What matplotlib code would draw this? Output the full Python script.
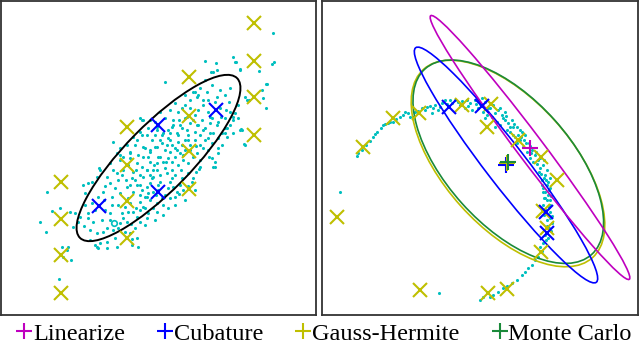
import matplotlib
matplotlib.use("Agg")
import matplotlib.pyplot as plt
import numpy as np
from matplotlib.patches import Ellipse
from matplotlib.lines import Line2D

plt.rcParams['font.family'] = ['Liberation Serif', 'DejaVu Serif']

# ------------------------------------------------------------------------------
# Data (in panel pixel units, y pointing down)

# left panel: linear case
left_cloud = [
    (273,33),(274,62),(272,64),(233,57),(235,62),(240,70),(259,71),(216,63),(205,61),(217,70),(213,72),(165,82),
    (266,84),(262,90),(263,98),(247,100),(266,108),(240,130),(244,144),(233,120),(227,137),(218,148),(215,167),
    (199,169),(209,157),(235,113),(47,192),(52,211),(40,222),(46,232),(68,247),(71,260),(59,279),(63,257),(75,213),
    (73,227),(88,183),(99,168),(97,247),(107,248),(138,247),(132,239),(90,230),(95,245),(113,142),(120,155),(140,118),
    (143,120),(211,72),(236,62),(240,69),(267,84),(249,100),(245,97),(238,105),(241,129),(229,102),(226,110),(221,117),
    (208,112),(210,117),(207,92),(203,100),(197,97),(195,92),(200,88),(217,97),(218,122),(227,128),(225,133),(233,117),
    (185,105),(182,108),(179,120),(193,120),(197,125),(202,120),(203,130),(213,133),(172,127),(168,130),(163,133),
    (177,133),(187,130),(157,127),(150,120),(173,125),(182,128),(190,123),(198,125),(210,133),(217,125),(225,128),
    (205,140),(212,143),(218,138),(203,148),(197,153),(193,157),(200,160),(212,158),(218,153),(213,167),(188,163),
    (183,160),(180,153),(175,148),(170,152),(167,145),(160,140),(155,147),(150,152),(145,148),(143,157),(150,162),
    (157,163),(163,162),(172,162),(153,170),(147,170),(143,177),(152,178),(160,175),(167,173),(170,182),(160,182),
    (147,187),(142,190),(145,197),(150,200),(157,203),(163,205),(153,208),(143,207),(148,213),(173,187),(180,185),
    (177,192),(182,178),(188,173),(193,178),(179,194),(183,190),(233,133),(242,130),(245,145),(215,162),(200,167),
    (192,182),(195,190),(60,208),(70,212),(80,217),(88,218),(92,203),(85,193),(83,185),(92,182),(97,177),(100,170),
    (107,177),(113,170),(110,183),(118,180),(103,192),(105,210),(110,213),(102,220),(93,222),(97,233),(107,228),
    (113,230),(120,223),(127,222),(122,213),(133,212),(137,217),(140,210),(145,208),(130,203),(125,207),(107,242),
    (100,243),(98,248),(117,247),(130,233),(137,238),(132,245),(62,247),(67,250),(120,193),(127,187),(115,188),
    (112,197),(133,192),(140,195),(147,197),(153,192),(117,173),(123,170),(133,172),(140,175),(147,170),(110,163),
    (120,160),(130,158),(137,163),(148,157),(117,153),(130,152),(157,170),(153,177),(142,120),(120,148),(127,145),
    (133,137),(140,132),(137,140),(147,135),(152,140),(155,135),(157,130),(143,147),(150,150),(157,147),(130,153),
    (123,157),(138,155),(158,157),(193,92),(198,95),(208,100),(203,105),(198,110),(190,108),(187,117),(173,120),
    (180,125),(210,123),(170,110),(175,103),(165,150),(168,158),(175,157),(178,142),(185,140),(190,145),(185,150),
    (178,165),(172,170),(165,168),(158,190),(165,195),(170,198),(185,200),(175,205),(163,215),(155,220),(145,225),
    (135,228),(125,232),(140,185),(135,180),(128,198),(118,205),(162,135),(168,138),(195,140),(200,135),(208,150),
    (222,145),(225,118),(230,112),(188,135),(195,132),(182,145),(172,178),(156,195),(150,183),(137,185),(132,178),
    (225,95),(230,88),(220,90),(212,85),(205,80),(185,95),(178,112),(165,118),(160,112),(155,122),(148,128),(142,135),
    (135,145),(128,165),(122,175),(112,205),(95,210),(85,205),(103,232),(115,238),(88,213),(78,222),
    (162,143),(170,140),(177,150),(183,155),(190,150),(196,146),(188,140),(166,162),(160,157),(154,165),(175,175),
    (181,170),(168,188),(162,198),(148,193),(140,202),(136,208),(128,212),(123,218),(118,228),(110,220),(104,200),
    (98,197),(126,180),(130,185),(142,167),(136,170),(150,175),(158,185),(205,128),(212,118),(220,108),(215,102),
    (190,100),(195,115),(185,118),(178,135),(170,133),(172,145),(200,145),(208,138),(222,133),(230,125),(238,118),
    (196,172),(188,186),(175,197),(168,208),(157,212),(147,218),(140,222),(131,224),(90,240),(84,226),(105,186),
]
left_mean = (114, 223)
left_gh = [(61,182),(61,219),(61,255),(61,293),(127,127),(127,165),(127,201),(127,238),
           (189,77),(189,116),(189,151),(189,189),(254,23),(254,61),(254,97),(254,135)]
left_cub = [(158,125),(216,110),(158,192),(99,206)]
# black ellipse: center, semi axes, angle (deg)
left_ell = ((158.5, 158), 112, 33, -45.5)

# right panel: nonlinear case
right_cloud = [
    (340,192),(357,156),(358,153),(362,150),(366,145),(370,141),(373,137),(375,134),(377,132),(381,128),(383,125),
    (385,124),(388,123),(390,122),(393,122),(396,119),(400,117),(403,115),(405,112),(408,113),(410,117),(413,117),
    (415,112),(418,111),(422,108),(425,110),(427,107),(430,106),(433,108),(432,113),(435,105),(438,110),(440,107),
    (442,103),(445,100),(447,104),(450,100),(452,103),(455,100),(458,102),(462,101),(467,100),(470,103),(472,110),
    (475,100),(465,108),(478,108),(480,104),(482,98),(483,112),(485,102),(487,115),(488,108),(490,108),(492,117),
    (485,118),(495,113),(497,122),(498,110),(500,125),(495,127),(502,115),(503,118),(505,112),(507,130),(508,123),
    (510,132),(512,120),(513,135),(515,137),(517,127),(520,130),(522,132),(525,135),(517,143),(520,140),(523,147),
    (527,152),(532,150),(529,143),(535,155),(530,158),(533,162),(538,160),(543,165),(540,168),(547,170),(545,175),
    (550,178),(542,180),(547,185),(550,188),(543,188),(543,192),(542,185),(545,192),(548,195),(547,200),(550,205),
    (543,205),(546,210),(550,212),(552,216),(550,218),(547,220),(552,223),(549,228),(551,231),(545,235),(548,238),
    (543,243),(540,247),(542,251),(538,257),(535,260),(532,265),(528,268),(525,272),(522,275),(517,280),(512,283),
    (507,286),(503,288),(498,292),(493,295),(490,297),(483,297),(480,300),(487,292),(439,293),(505,120),(510,127),
    (513,127),(518,135),(524,140),(530,146),(536,152),(540,158),(544,160),(539,172),(544,178),(548,182),(551,196),
    (545,198),(544,215),(549,207),(460,105),(468,106),(476,104),(493,105),(500,108),(506,116),(514,124),(521,137),
    (526,143),(531,153),(537,164),(541,174),(546,180),(549,190),(544,198),(550,200),(547,226),(546,240),
]
right_gh = [(337,217),(363,147),(393,118),(419,113),(462,105),(491,104),(487,127),(518,140),
            (541,157),(557,180),(543,211),(547,228),(541,252),(507,289),(488,293),(420,290)]
right_cub = [(449,107),(482,106),(546,212),(547,233)]

methods = ["Linearize", "Cubature", "Gauss-Hermite", "Monte Carlo"]
method_colors = ["m", "b", "y", "#1a8a3a"]
method_means = [(530,148), (506,165), (507,163), (508,162)]
# center, semi major, semi minor, angle (deg)
method_ells = [((530,147.5), 165, 13, 53.0),
               ((506,165), 148, 20, 52.4),
               ((508,163.5), 126.5, 63.5, 48.1),
               ((508.3,161.7), 124.7, 62.3, 48.1)]

# ------------------------------------------------------------------------------

def xy(pts):
  a = np.array(pts, dtype=float)
  return a[:, 0], a[:, 1]

fig = plt.figure(figsize=(6.4, 3.46), dpi=100)
W, H = 640., 346.
ax_l = fig.add_axes([1/W, 31/H, 315/W, 314/H])
ax_r = fig.add_axes([322/W, 31/H, 316/W, 314/H])

ms_x = 10
mew = 1.5

# Left panel
x, y = xy(left_cloud)
ax_l.scatter(x, y, s=5, color="c", linewidths=0, zorder=1)
ax_l.plot(*left_mean, marker="o", color="c", ms=4, mfc="none", mew=1.2, zorder=2)
(c, a, b, ang) = left_ell
ax_l.add_patch(Ellipse(c, 2*a, 2*b, angle=ang, fill=False, color="k", lw=1.4, zorder=3))
x, y = xy(left_gh)
ax_l.plot(x, y, "x", color="y", ms=ms_x, mew=mew, zorder=4)
x, y = xy(left_cub)
ax_l.plot(x, y, "x", color="b", ms=ms_x, mew=mew, zorder=5)
ax_l.set_xlim(1, 316)
ax_l.set_ylim(315, 1)

# Right panel
x, y = xy(right_cloud)
ax_r.scatter(x, y, s=5, color="c", linewidths=0, zorder=1)
for k in [2, 3, 1, 0]:
  (c, a, b, ang) = method_ells[k]
  ax_r.add_patch(Ellipse(c, 2*a, 2*b, angle=ang, fill=False, color=method_colors[k], lw=1.2, zorder=3))
x, y = xy(right_gh)
ax_r.plot(x, y, "x", color="y", ms=ms_x, mew=mew, zorder=4)
x, y = xy(right_cub)
ax_r.plot(x, y, "x", color="b", ms=ms_x, mew=mew, zorder=5)
for k in [1, 2, 3, 0]:
  ax_r.plot(*method_means[k], marker="+", color=method_colors[k], ms=12, mew=mew, zorder=6)
ax_r.set_xlim(322, 638)
ax_r.set_ylim(315, 1)

for ax in (ax_l, ax_r):
  ax.set_xticks([])
  ax.set_yticks([])
  for s in ax.spines.values():
    s.set_linewidth(1.3)
    s.set_color("#333333")

handles = [Line2D([], [], ls="none", marker="+", color=c, ms=12, mew=1.5) for c in method_colors]
fig.legend(handles, methods, loc="center", bbox_to_anchor=(0.507, 0.036), ncol=4, frameon=False,
           fontsize=17.5, handlelength=0.6, handletextpad=0.06, columnspacing=1.35, borderpad=0, borderaxespad=0)

fig.savefig("out.png", dpi=100)
plt.close(fig)
